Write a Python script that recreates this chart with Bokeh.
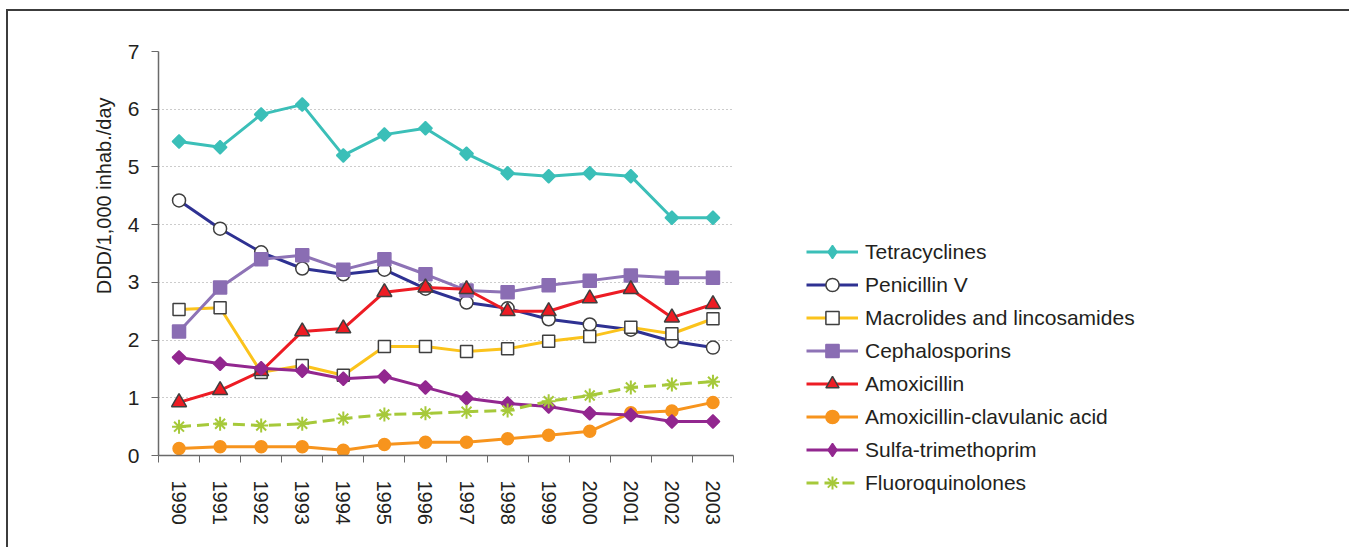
import math
from bokeh.plotting import figure
from bokeh.layouts import row
from bokeh.models import FixedTicker, Legend, LegendItem, Range1d, Title
from bokeh.embed import file_html
from bokeh.resources import INLINE

years = [1990, 1991, 1992, 1993, 1994, 1995, 1996, 1997, 1998, 1999, 2000, 2001, 2002, 2003]
y_ticks = [0, 1, 2, 3, 4, 5, 6, 7]

tetracyclines = [5.44, 5.34, 5.91, 6.08, 5.20, 5.56, 5.67, 5.23, 4.89, 4.84, 4.89, 4.84, 4.12, 4.12]
penicillin_v = [4.42, 3.93, 3.52, 3.24, 3.14, 3.22, 2.89, 2.65, 2.55, 2.36, 2.27, 2.18, 1.98, 1.87]
macrolides = [2.53, 2.56, 1.44, 1.56, 1.39, 1.89, 1.89, 1.80, 1.85, 1.98, 2.06, 2.22, 2.11, 2.37]
cephalosporins = [2.15, 2.91, 3.40, 3.47, 3.22, 3.40, 3.14, 2.86, 2.83, 2.95, 3.03, 3.12, 3.08, 3.08]
amoxicillin = [0.92, 1.13, 1.46, 2.15, 2.20, 2.83, 2.91, 2.88, 2.50, 2.50, 2.72, 2.88, 2.39, 2.62]
amox_clav = [0.12, 0.15, 0.15, 0.15, 0.09, 0.19, 0.23, 0.23, 0.29, 0.35, 0.42, 0.74, 0.77, 0.92]
sulfa_tmp = [1.70, 1.59, 1.51, 1.47, 1.33, 1.37, 1.18, 0.99, 0.90, 0.85, 0.73, 0.70, 0.59, 0.59]
fluoroquinolones = [0.50, 0.55, 0.52, 0.55, 0.64, 0.71, 0.73, 0.76, 0.78, 0.94, 1.04, 1.18, 1.23, 1.28]

labels = ["Tetracyclines", "Penicillin V", "Macrolides and lincosamides", "Cephalosporins",
          "Amoxicillin", "Amoxicillin-clavulanic acid", "Sulfa-trimethoprim", "Fluoroquinolones"]
y_title = "DDD/1,000 inhab./day"

FONT = "Liberation Sans"
TXT = "#231f20"
EDGE = "#3f3f3f"
H = 538

p = figure(width=735, height=H, output_backend="svg", toolbar_location=None,
           x_range=Range1d(1989.5, 2003.5), y_range=Range1d(0, 7),
           min_border_left=150, min_border_right=10, min_border_top=40, min_border_bottom=94)
p.outline_line_color = None
p.background_fill_color = "white"
p.border_fill_color = "white"

p.xgrid.visible = False
p.ygrid.ticker = FixedTicker(ticks=y_ticks)
p.ygrid.grid_line_color = "#999999"
p.ygrid.grid_line_dash = "1 3"
p.ygrid.grid_line_width = 1

# y axis
ya = p.yaxis[0]
ya.ticker = FixedTicker(ticks=y_ticks)
ya.major_tick_out = 7
ya.major_tick_in = 0
ya.minor_tick_out = 0
ya.minor_tick_in = 0
ya.axis_line_color = "#6a6a6a"
ya.major_tick_line_color = "#6a6a6a"
ya.axis_line_width = 1.5
ya.major_label_text_font = FONT
ya.major_label_text_font_size = "21px"
ya.major_label_text_color = TXT
ya.major_label_standoff = 12

p.add_layout(Title(text=y_title, align="right", offset=46, standoff=20,
                   text_font=FONT, text_font_size="20px", text_font_style="normal",
                   text_color=TXT), "left")

# x axis
xa = p.xaxis[0]
xa.ticker = FixedTicker(ticks=years, minor_ticks=[y - 0.5 for y in years] + [years[-1] + 0.5])
xa.major_label_overrides = {y: str(y) for y in years}
xa.major_tick_out = 0
xa.major_tick_in = 0
xa.minor_tick_out = 7
xa.minor_tick_in = 0
xa.minor_tick_line_color = "#6a6a6a"
xa.axis_line_color = "#6a6a6a"
xa.axis_line_width = 1.5
xa.major_label_orientation = -math.pi / 2
xa.major_label_standoff = 18
xa.major_label_text_font = FONT
xa.major_label_text_font_size = "20px"
xa.major_label_text_color = TXT

series = [
    (tetracyclines, "#3bbfb8", "square", 9.5, "#3bbfb8", "#3bbfb8", math.pi / 4, "solid"),
    (penicillin_v, "#2e3192", "circle", 13, "white", EDGE, 0, "solid"),
    (macrolides, "#fbc31c", "square", 12, "white", EDGE, 0, "solid"),
    (cephalosporins, "#8e73b6", "square", 13, "#8a6db3", "#8a6db3", 0, "solid"),
    (amoxicillin, "#ed1c24", "triangle", 15, "#ed1c24", EDGE, 0, "solid"),
    (amox_clav, "#f7941d", "circle", 12, "#f7941d", "#f7941d", 0, "solid"),
    (sulfa_tmp, "#92278f", "square", 9.5, "#92278f", "#92278f", math.pi / 4, "solid"),
    (fluoroquinolones, "#a6c93a", "asterisk", 14, "#a6c93a", "#a6c93a", 0, "12 6"),
]

# legend panel: a second, axis-free figure whose frame holds the legend
q = figure(width=608, height=H, output_backend="svg", toolbar_location=None,
           x_range=Range1d(0, 1), y_range=Range1d(0, 1),
           x_axis_type=None, y_axis_type=None,
           min_border_left=0, min_border_right=0, min_border_top=0, min_border_bottom=0)
q.outline_line_color = None
q.grid.visible = False
q.background_fill_color = "white"
q.border_fill_color = "white"

# let the legend figure's frame span its whole canvas (no frame alignment with the chart)
legend_loc = (63, 50)
try:
    p.frame_align = False
    q.frame_align = False
except Exception:
    legend_loc = (63, 0)

items = []
for label, (vals, lc, mk, sz, fc, ec, ang, dash) in zip(labels, series):
    lw = 2 if mk == "asterisk" else 1.5
    p.line(years, vals, line_color=lc, line_width=3, line_dash=dash)
    p.scatter(years, vals, marker=mk, size=sz, fill_color=fc, line_color=ec,
              line_width=lw, angle=ang)
    lmk = "diamond" if ang else mk
    ql = q.line(years, vals, line_color=lc, line_width=3, line_dash=dash, visible=False)
    qm = q.scatter(years, vals, marker=lmk, size=sz, fill_color=fc, line_color=ec,
                   line_width=lw, visible=False)
    items.append(LegendItem(label=label, renderers=[ql, qm]))

legend = Legend(items=items, location=legend_loc, ncols=1,
                glyph_width=52, glyph_height=33,
                label_height=33, spacing=0, padding=10, label_standoff=7,
                border_line_color=None, background_fill_alpha=0, inactive_fill_alpha=0,
                label_text_font=FONT, label_text_font_size="21px", label_text_color=TXT)
q.add_layout(legend)

layout = row(p, q)
layout.styles = {"margin-left": "8px", "margin-top": "11px",
                 "box-shadow": "-2px -2px 0 0 #3c3c3c"}

open("out.html", "w").write(file_html(layout, INLINE))
